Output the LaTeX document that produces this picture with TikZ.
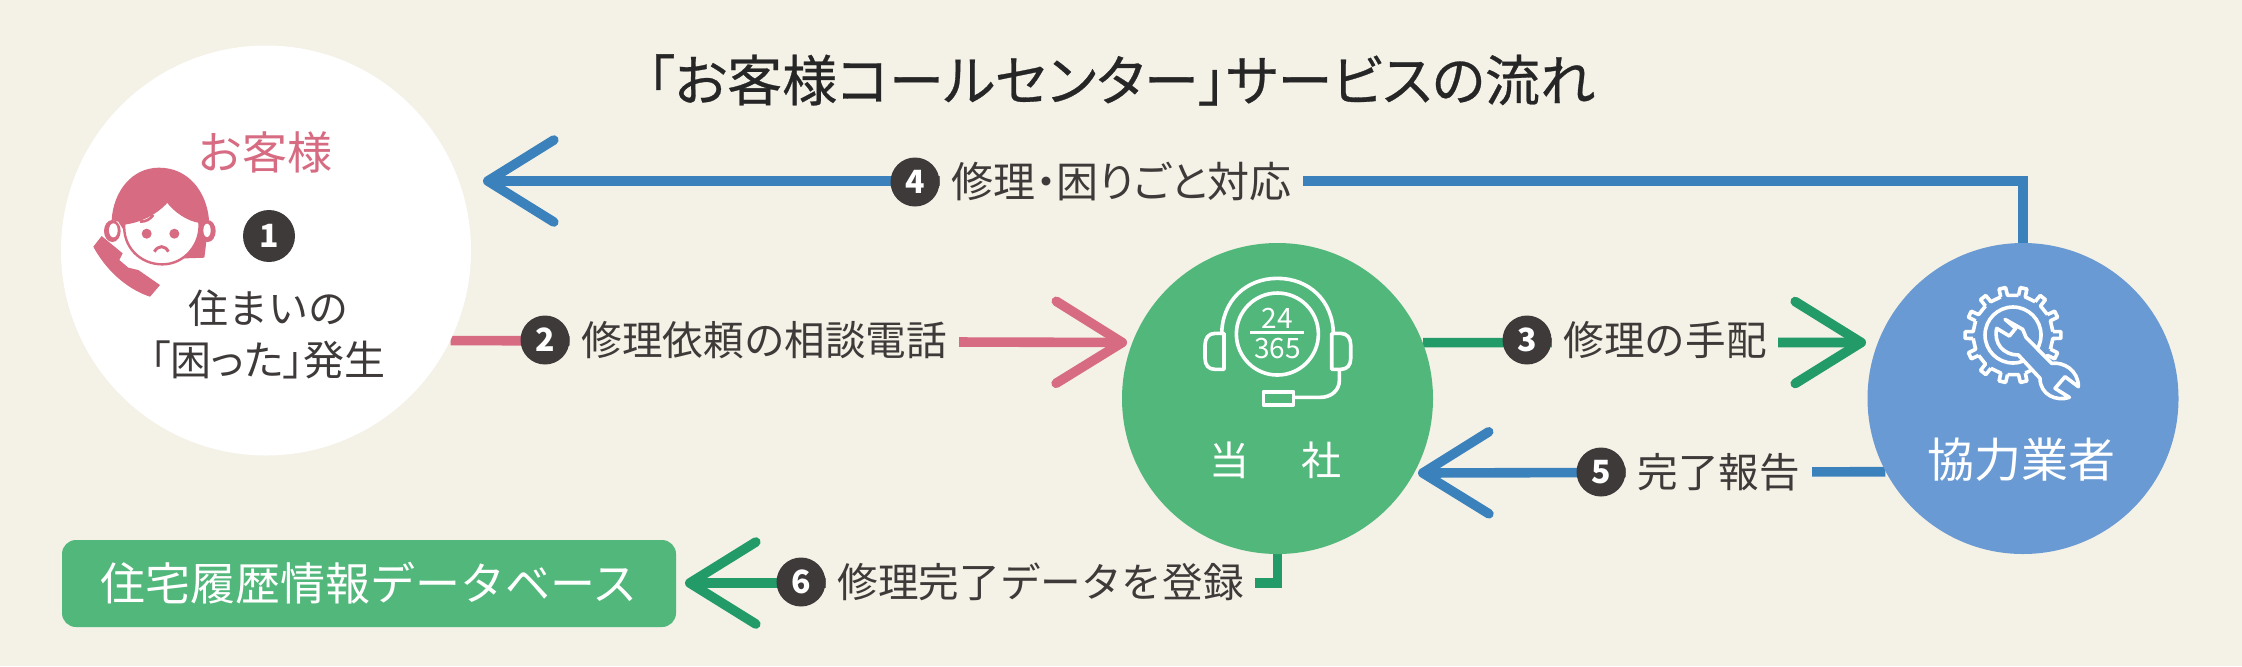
\documentclass[tikz,border=0pt]{standalone}
\usepackage{fontspec}
\setmainfont{Noto Sans CJK JP}
\newfontfamily\tightfont{Noto Sans CJK JP}[RawFeature=+palt]
\newfontfamily\titlefont{Noto Sans CJK JP}[RawFeature=+palt, FakeBold=0.5]
\usetikzlibrary{positioning, calc, arrows.meta}
\definecolor{paper}{HTML}{F4F1E7}
\definecolor{ink}{HTML}{3E3A39}
\definecolor{pinkfill}{HTML}{D66B82}
\definecolor{greenfill}{HTML}{52B77B}
\definecolor{greenline}{HTML}{229B69}
\definecolor{bluefill}{HTML}{6A9AD3}
\definecolor{blueline}{HTML}{3B82BC}
\pgfdeclarelayer{backdrop}
\pgfdeclarelayer{lines}
\pgfsetlayers{backdrop,lines,main}

\begin{document}
\begin{tikzpicture}[
    x=0.5pt, y=-0.5pt,
    party/.style={circle, minimum size=#1, inner sep=0},
    flow/.style={line width=4.8pt, line join=miter,
        -{Straight Barb[length=33pt, width=41pt, round]}},
    badge/.style={circle, fill=ink, text=white, minimum size=24.5pt, inner sep=0,
        font=\fontsize{16}{16}\bfseries\selectfont},
    steptext/.style={fill=paper, text=ink, inner xsep=5.7pt, inner ysep=1pt,
        font=\fontsize{20.3}{24}\selectfont},
    icon/.style={draw=white, line width=1.8pt, line join=round},
  ]
  \begin{pgfonlayer}{backdrop}
    \fill[paper] (0,0) rectangle (2242,666);
  \end{pgfonlayer}
  \useasboundingbox (0,0) rectangle (2242,666);

  \node[text=black!85, font=\titlefont\fontsize{27.5}{32}\selectfont] (title) at (1121,80)
  {「お客様コールセンター」サービスの流れ};

  % the three parties
  \node[party=205pt, fill=white] (customer) at (266,250.5) {};
  \node[party=155.5pt, fill=greenfill] (agent) at (1277.5,398.5) {};
  \node[party=155.5pt, fill=bluefill] (partner) at (2023,398.5) {};
  \node[fill=greenfill, text=white, rounded corners=7pt, minimum width=307pt,
    minimum height=43.5pt, inner sep=0, font=\fontsize{22.5}{26}\selectfont]
  (database) at (369,583.5) {住宅履歴情報データベース};

  \coordinate (tip2) at (1127,342.5);
  \coordinate (tip3) at (1866,342.5);
  \coordinate (tip4) at (483,181);
  \coordinate (tip5) at (1418,473);
  \coordinate (tip6) at (685,583);

  \begin{pgfonlayer}{lines}
    \draw[flow, pinkfill] (customer.-26.7) -- (tip2);
    \draw[flow, greenline] (agent.21.3) -- (tip3);
    \draw[flow, blueline] (partner.north) |- (tip4);
    \draw[flow, blueline] (partner.208.8) -- (tip5);
    \draw[flow, greenline] (agent.south) |- (tip6);
  \end{pgfonlayer}

  % numbered labels on the connectors
  \node[badge] (badge2) at (545,340) {2};
  \node[steptext, right=0pt of badge2] (text2) {修理依頼の相談電話};
  \node[badge] (badge3) at (1527,340) {3};
  \node[steptext, right=0pt of badge3] (text3) {修理の手配};
  \node[badge] (badge4) at (915,182) {4};
  \node[steptext, font=\tightfont\fontsize{21}{24}\selectfont, right=0pt of badge4] (text4) {修理・困りごと対応};
  \node[badge] (badge5) at (1601,472) {5};
  \node[steptext, right=0pt of badge5] (text5) {完了報告};
  \node[badge] (badge6) at (801,582) {6};
  \node[steptext, right=0pt of badge6] (text6) {修理完了データを登録};

  % customer
  \node[text=pinkfill, font=\fontsize{22.5}{26}\selectfont] (customername) at (265,152) {お客様};
  \node[badge, minimum size=26pt] (badge1) at (269,236) {1};
  \node[text=ink, font=\fontsize{20}{26}\selectfont, align=center] (trouble) at (268,334)
  {住まいの\\{\tightfont\fontsize{20.5}{26}\selectfont 「困った」発生}};

  \begin{scope}[shift={(85,155)}, x=0.1667pt, y=-0.1667pt]
    \fill[pinkfill] (80,195) .. controls (85,110) and (140,38) .. (222,38)
    .. controls (310,38) and (365,110) .. (372,195) -- (358,308) -- (300,310)
    -- (232,300) -- (125,240) -- (100,200) -- cycle;
    \fill[pinkfill] (82,228) ellipse[x radius=25, y radius=33];
    \fill[pinkfill] (368,228) ellipse[x radius=24, y radius=33];
    \fill[white] (85,226) ellipse[x radius=13, y radius=21];
    \fill[white] (366,226) ellipse[x radius=11, y radius=20];
    \filldraw[fill=white, draw=pinkfill, line width=1.2pt] (118,205)
    .. controls (165,200) and (215,175) .. (247,138)
    .. controls (270,170) and (310,195) .. (343,200)
    .. controls (350,265) and (300,328) .. (232,328)
    .. controls (165,328) and (112,275) .. (118,205) -- cycle;
    \fill[pinkfill] (185,236) circle[radius=15];
    \fill[pinkfill] (268,236) circle[radius=15];
    \draw[pinkfill, line width=1.5pt] (208,290) .. controls (220,270) and (240,270) .. (250,290);
    \draw[pinkfill, line width=1.3pt] (165,200) .. controls (185,200) and (195,192) .. (205,180);
    \fill[pinkfill] (25,275) -- (50,243) -- (113,295) -- (103,315) -- (130,338)
    -- (160,345) -- (225,390) -- (195,425)
    .. controls (120,400) and (60,340) .. (25,275) -- cycle;
  \end{scope}

  % agent
  \begin{scope}[shift={(1100,250)}, x=0.1667pt, y=-0.1667pt]
    \draw[icon] (365,255) .. controls (365,150) and (440,85) .. (532,85)
    .. controls (625,85) and (700,150) .. (700,255);
    \draw[icon] (532,252) circle[radius=123];
    \draw[icon] (372,250) -- (345,250) .. controls (325,250) and (315,265) .. (315,285)
    -- (315,325) .. controls (315,345) and (325,358) .. (345,358) -- (372,358) -- cycle;
    \draw[icon] (695,250) -- (722,250) .. controls (742,250) and (752,265) .. (752,285)
    -- (752,325) .. controls (752,345) and (742,358) .. (722,358) -- (695,358) -- cycle;
    \draw[icon] (718,358) -- (718,390) .. controls (718,420) and (695,442) .. (660,442) -- (580,442);
    \draw[icon] (490,425) rectangle (580,465);
    \draw[icon, line width=1.3pt] (450,247) -- (612,247);
    \node[text=white, font=\fontsize{14}{14}\selectfont] (dayhours) at (532,204) {24};
    \node[text=white, font=\fontsize{14}{14}\selectfont] (yeardays) at (532,295) {365};
  \end{scope}
  \node[text=white, font=\fontsize{20}{24}\selectfont] (agentname) at (1275,460) {当\hspace{26pt}社};

  % partner
  \begin{scope}[shift={(2013,335)}]
    \draw[icon] \foreach \a in {0,25.71,...,340} {
        (\a-5:40) -- (\a-4:48) -- (\a+4:48) -- (\a+5:40) -- (\a+20.71:40)
      };
    \draw[icon] (0,0) circle[radius=28];
  \end{scope}
  \begin{scope}[shift={(1950,280)}, x=0.1667pt, y=-0.1667pt]
    \draw[icon, fill=bluefill] (165,118) -- (218,148) -- (228,172) -- (305,250)
    .. controls (340,245) and (385,270) .. (385,320) -- (345,290) -- (315,325)
    -- (358,352) .. controls (320,365) and (270,345) .. (270,295) -- (205,225)
    .. controls (160,225) and (130,190) .. (140,145) -- (178,168) -- (197,145) -- cycle;
  \end{scope}
  \node[text=white, font=\fontsize{23.5}{26}\selectfont] (partnername) at (2021,460) {協力業者};
\end{tikzpicture}
\end{document}
